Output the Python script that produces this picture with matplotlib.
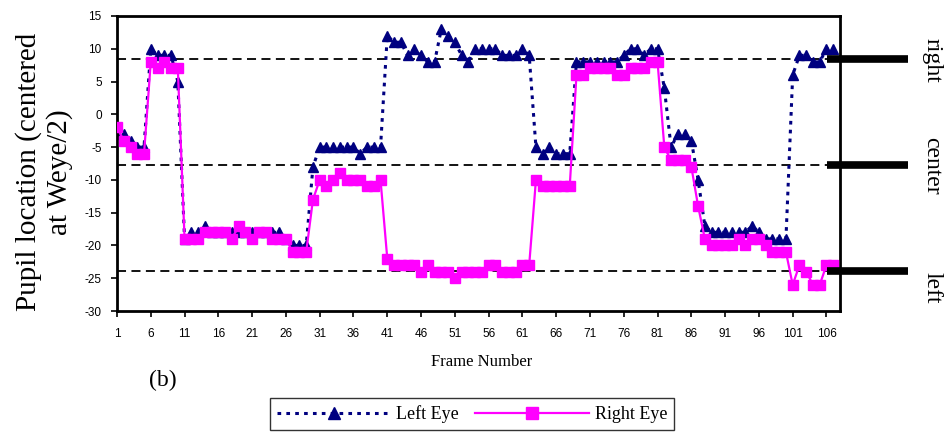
import numpy as np
import matplotlib
matplotlib.use('Agg')
import matplotlib.pyplot as plt
import matplotlib.transforms as mtransforms

plt.rcParams['axes.unicode_minus'] = False  # plain hyphen like the original

# Frame numbers 1..107
frames = list(range(1, 108))

# Left eye pupil location
left_eye = [-3, -3, -4, -5, -5, 10, 9, 9, 9, 5,
            -19, -18, -18, -17, -18, -18, -18, -18, -18, -18,
            -18, -18, -18, -18, -18, -19, -20, -20, -20, -8,
            -5, -5, -5, -5, -5, -5, -6, -5, -5, -5,
            12, 11, 11, 9, 10, 9, 8, 8, 13, 12,
            11, 9, 8, 10, 10, 10, 10, 9, 9, 9,
            10, 9, -5, -6, -5, -6, -6, -6, 8, 8,
            8, 8, 8, 8, 8, 9, 10, 10, 9, 10,
            10, 4, -5, -3, -3, -4, -10, -17, -18, -18,
            -18, -18, -18, -18, -17, -18, -19, -19, -19, -19,
            6, 9, 9, 8, 8, 10, 10]

# Right eye pupil location
right_eye = [-2, -4, -5, -6, -6, 8, 7, 8, 7, 7,
             -19, -19, -19, -18, -18, -18, -18, -19, -17, -18,
             -19, -18, -18, -19, -19, -19, -21, -21, -21, -13,
             -10, -11, -10, -9, -10, -10, -10, -11, -11, -10,
             -22, -23, -23, -23, -23, -24, -23, -24, -24, -24,
             -25, -24, -24, -24, -24, -23, -23, -24, -24, -24,
             -23, -23, -10, -11, -11, -11, -11, -11, 6, 6,
             7, 7, 7, 7, 6, 6, 7, 7, 7, 8,
             8, -5, -7, -7, -7, -8, -14, -19, -20, -20,
             -20, -20, -19, -20, -19, -19, -20, -21, -21, -21,
             -26, -23, -24, -26, -26, -23, -23]

# reference levels (right / center / left) and their labels
ref_levels = [8.4, -7.7, -23.9]
ref_names = ['right', 'center', 'left']
ref_label_y = [8.3, -7.9, -26.4]

x_ticks = list(range(1, 107, 5))
y_ticks = list(range(-30, 16, 5))

fig = plt.figure(figsize=(9.52, 4.32), dpi=100)
ax = fig.add_axes([117/952, 1 - 311/432, (840 - 117)/952, (311 - 16)/432])

for lv in ref_levels:
    ax.axhline(lv, color='black', lw=1.3, dashes=(5, 3), zorder=1)

ax.plot(frames, left_eye, color='#000080', lw=2.2, dashes=(1.2, 1.7),
        marker='^', markersize=7.5, label='Left Eye', zorder=2)
ax.plot(frames, right_eye, color='#ff00ff', lw=1.6, linestyle='-',
        marker='s', markersize=7, label='Right Eye', zorder=3)

ax.set_xlim(1, 108)
ax.set_ylim(-30, 15)
ax.set_xticks(x_ticks)
ax.set_yticks(y_ticks)
ax.tick_params(axis='both', direction='out', length=4, width=1.2,
               labelsize=8.5, colors='black')
ax.tick_params(axis='x', pad=8)
ax.tick_params(axis='y', pad=7)
for lab in ax.get_xticklabels() + ax.get_yticklabels():
    lab.set_family('Liberation Sans')
for sp in ax.spines.values():
    sp.set_linewidth(2)

# thick bars and labels on the right side
blend = mtransforms.blended_transform_factory(fig.transFigure, ax.transData)
for lv, name, ty in zip(ref_levels, ref_names, ref_label_y):
    ax.plot([827/952, 908/952], [lv, lv], transform=blend, color='black',
            lw=5.5, solid_capstyle='butt', clip_on=False, zorder=4)
    ax.text(932/952, ty, name, transform=blend, rotation=-90, ha='center',
            va='center', fontsize=17, family='Liberation Serif')

fig.text(44/952, 1 - 172/432, 'Pupil location (centered\nat Weye/2)',
         rotation=90, ha='center', va='center', multialignment='center',
         fontsize=21, family='Liberation Serif', linespacing=1.2)

fig.text(482/952, 1 - 362/432, 'Frame Number', ha='center', va='center',
         fontsize=12, family='Liberation Serif')
fig.text(163/952, 1 - 380/432, '(b)', ha='center', va='center',
         fontsize=17, family='Liberation Serif')

leg = fig.legend(loc='upper left', bbox_to_anchor=(270/952, 1 - 398/432),
                 ncol=2, frameon=True, fancybox=False, edgecolor='black',
                 prop={'family': 'Liberation Serif', 'size': 13},
                 handlelength=6.3, handletextpad=0.3, columnspacing=0.9,
                 borderpad=0.4, borderaxespad=0, markerscale=1.2)
leg.get_frame().set_linewidth(1.0)

fig.savefig('out.png', dpi=100)
